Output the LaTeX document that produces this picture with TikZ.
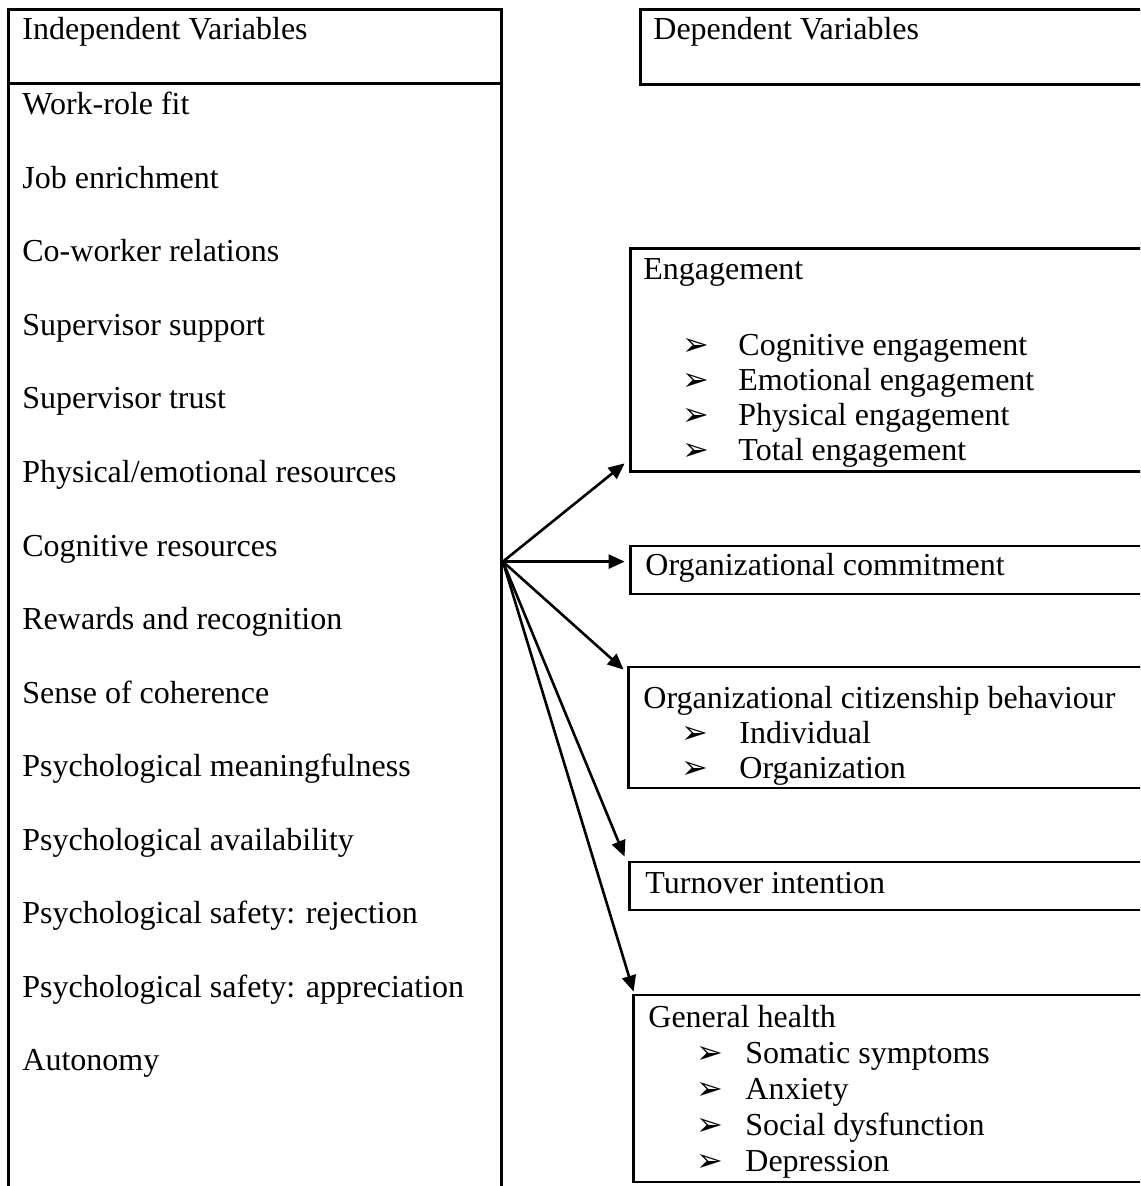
\documentclass[tikz,border=0pt]{standalone}
\usepackage{fontspec}
\setmainfont{Liberation Serif}
\newfontfamily\dingfont{DejaVu Sans}
\usetikzlibrary{arrows.meta,calc,fit}
% list bullet: arrowhead glyph in a box of the given width
\newcommand\bul[1]{\makebox[#1][l]{\dingfont\fontsize{16}{16}\selectfont ➢}}

\begin{document}
\begin{tikzpicture}[x=0.5pt,y=-0.5pt,
  box/.style={draw, line width=1.4pt, inner sep=0pt},
  lbl/.style={anchor=base west, inner sep=0pt, font=\fontsize{16}{19}\selectfont},
  link/.style={line width=1.3pt, -{Triangle[length=8pt,width=7pt]}}]
\useasboundingbox (0,0) rectangle (1140,1186);
\clip (0,0) rectangle (1140,1186);

% independent variables column
\node[box, fit={(8.5,9.5) (501.5,83.5)}] (indhead) {};
\node[box, fit={(8.5,83.5) (501.5,1200)}] (indbody) {};
\node[lbl] (indtitle) at (22,40) {Independent Variables};
\foreach \t [count=\i from 0] in {Work-role fit, Job enrichment, Co-worker relations,
  Supervisor support, Supervisor trust, Physical/emotional resources,
  Cognitive resources, Rewards and recognition, Sense of coherence,
  Psychological meaningfulness, Psychological availability,
  Psychological safety: rejection, Psychological safety: appreciation, Autonomy}
  \node[lbl] (iv\i) at (22,{115+73.5*\i}) {\t};

% dependent variables
\node[box, fit={(640.5,9.5) (1150,84.5)}] (dephead) {};
\node[lbl] (deptitle) at (653,40) {Dependent Variables};

\node[box, fit={(630.5,248.5) (1150,471.5)}] (eng) {};
\node[lbl] (engt) at (643,280) {Engagement};
\node[lbl] (eng1) at (682,356) {\bul{28pt}Cognitive engagement};
\node[lbl] (eng2) at (682,391) {\bul{28pt}Emotional engagement};
\node[lbl] (eng3) at (682,426) {\bul{28pt}Physical engagement};
\node[lbl] (eng4) at (682,461) {\bul{28pt}Total engagement};

\node[box, fit={(630.5,546) (1150,594)}] (oc) {};
\node[lbl] (oct) at (645,575) {Organizational commitment};

\node[box, fit={(628.5,667) (1150,788)}] (ocb) {};
\node[lbl] (ocbt) at (643,708) {Organizational citizenship behaviour};
\node[lbl] (ocb1) at (681,743) {\bul{29pt}Individual};
\node[lbl] (ocb2) at (681,778) {\bul{29pt}Organization};

\node[box, fit={(629.5,862) (1150,910)}] (to) {};
\node[lbl] (tot) at (645,893) {Turnover intention};

\node[box, fit={(633.5,995) (1150,1182)}] (gh) {};
\node[lbl] (ght) at (648,1027) {General health};
\node[lbl] (gh1) at (696,1063) {\bul{24.5pt}Somatic symptoms};
\node[lbl] (gh2) at (696,1099) {\bul{24.5pt}Anxiety};
\node[lbl] (gh3) at (696,1135) {\bul{24.5pt}Social dysfunction};
\node[lbl] (gh4) at (696,1171) {\bul{24.5pt}Depression};

% links fanning out from the independent column
\coordinate (src) at ($(indbody.north east)+(0,479.5)$);
\draw[link] (src) -- ($(eng.south west)+(-4.5,-9.5)$);
\draw[link] (src) -- ($(oc.north west)+(-4.5,17)$);
\draw[link] (src) -- ($(ocb.north west)+(-3.5,4)$);
\draw[link] (src) -- ($(to.north west)+(-3.5,-4)$);
\draw[link] (src) -- ($(gh.north west)+(1.5,-2)$);
\end{tikzpicture}
\end{document}
